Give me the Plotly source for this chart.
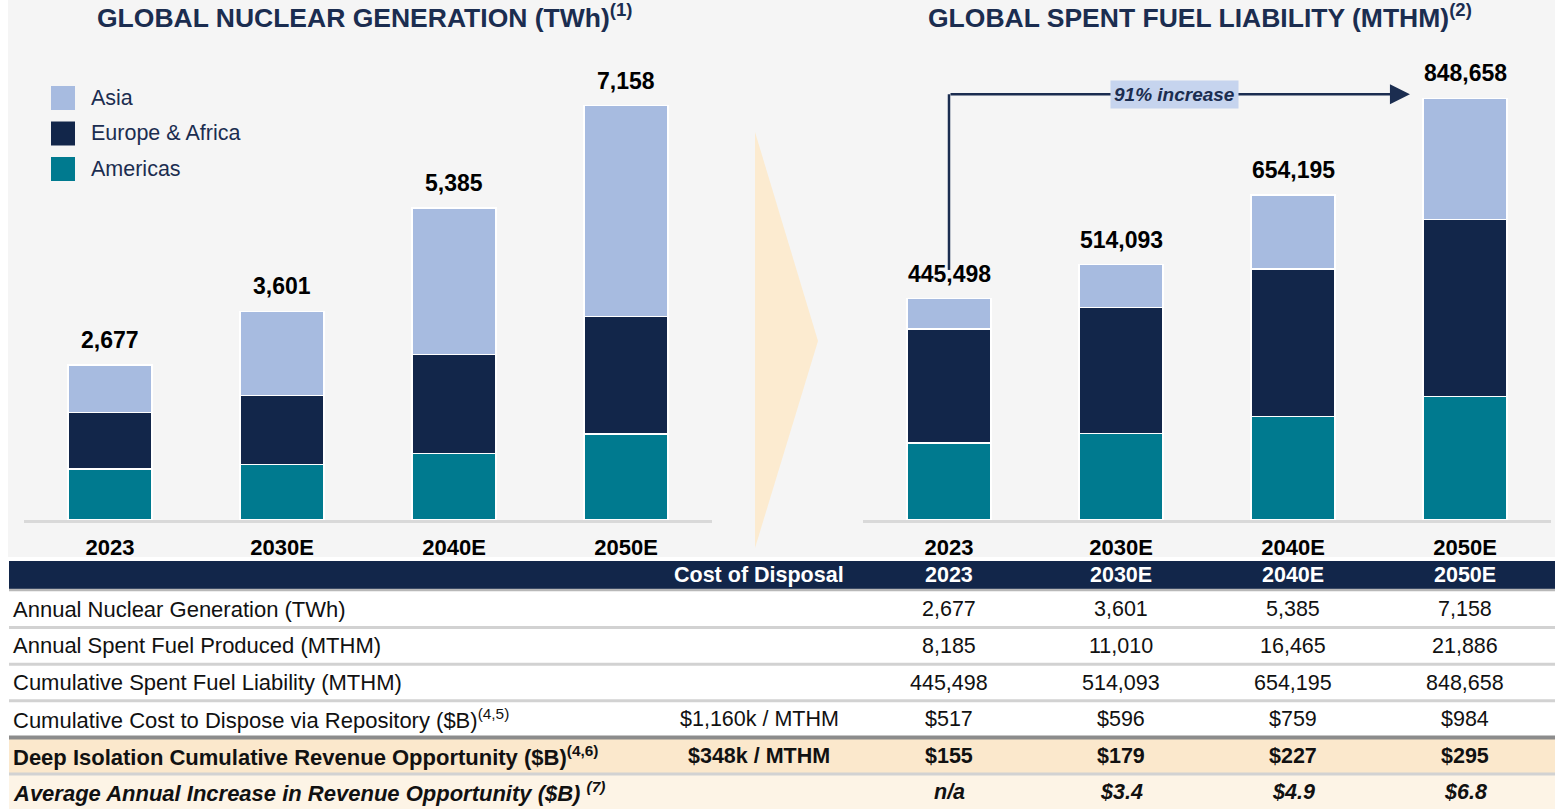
import plotly.graph_objects as go

W, H = 1555, 809

# ---------------- data ----------------
years = ["2023", "2030E", "2040E", "2050E"]

gen_americas = [881, 955, 1145, 1485]
gen_europe = [972, 1192, 1717, 2026]
gen_asia = [824, 1454, 2523, 3647]
gen_total = [2677, 3601, 5385, 7158]

fuel_americas = [155000, 174500, 208000, 249000]
fuel_europe = [229500, 252900, 297400, 355600]
fuel_asia = [60998, 86693, 148795, 244058]
fuel_total = [445498, 514093, 654195, 848658]

series_names = ["Asia", "Europe & Africa", "Americas"]

table_header_cost = "Cost of Disposal"
table_labels = [
    "Annual Nuclear Generation (TWh)",
    "Annual Spent Fuel Produced (MTHM)",
    "Cumulative Spent Fuel Liability (MTHM)",
    "Cumulative Cost to Dispose via Repository ($B)<sup>(4,5)</sup>",
    "<b>Deep Isolation Cumulative Revenue Opportunity ($B)<sup>(4,6)</sup></b>",
    "<b><i>Average Annual Increase in Revenue Opportunity ($B) <sup>(7)</sup></i></b>",
]
table_cost = ["", "", "", "$1,160k / MTHM", "<b>$348k / MTHM</b>", ""]
row_generation = ["2,677", "3,601", "5,385", "7,158"]
row_spent_annual = ["8,185", "11,010", "16,465", "21,886"]
row_cumulative = ["445,498", "514,093", "654,195", "848,658"]
row_repository = ["$517", "$596", "$759", "$984"]
row_revenue = ["$155", "$179", "$227", "$295"]
row_increase = ["n/a", "$3.4", "$4.9", "$6.8"]
increase_label = "91% increase"

# ---------------- style ----------------
C_ASIA = "#a7bbe0"
C_EUR = "#12264a"
C_AMER = "#007a8f"
C_TITLE = "#1b2d50"
FONT = "Liberation Sans, Arial, sans-serif"


def px(x):
    return x / W


def py(y):
    return 1 - y / H


fig = go.Figure()

for xa, ya, am, eu, asi in [
    ("x", "y", gen_americas, gen_europe, gen_asia),
    ("x2", "y2", fuel_americas, fuel_europe, fuel_asia),
]:
    for vals, col, name in [(am, C_AMER, series_names[2]),
                            (eu, C_EUR, series_names[1]),
                            (asi, C_ASIA, series_names[0])]:
        fig.add_trace(go.Bar(
            x=years, y=vals, name=name, xaxis=xa, yaxis=ya,
            marker=dict(color=col, line=dict(color="white", width=1.5)),
            width=0.49, showlegend=False, hoverinfo="skip",
        ))

axis_x = dict(type="category", range=[-0.5, 3.5], showline=True,
              linecolor="#d9d9d9", linewidth=3, showgrid=False, zeroline=False,
              ticks="", tickfont=dict(family=FONT, size=22, color="black", weight="bold"),
              ticklabelstandoff=6, fixedrange=True)

fig.update_layout(
    width=W, height=H,
    margin=dict(l=0, r=0, t=0, b=0),
    paper_bgcolor="white", plot_bgcolor="rgba(0,0,0,0)",
    barmode="stack", bargap=0.51,
    xaxis=dict(axis_x, domain=[px(24), px(712)], anchor="y"),
    yaxis=dict(domain=[py(520), 1], range=[0, 8980], visible=False, fixedrange=True),
    xaxis2=dict(axis_x, domain=[px(863), px(1551)], anchor="y2"),
    yaxis2=dict(domain=[py(520), 1], range=[0, 1046900], visible=False, fixedrange=True),
    showlegend=False,
    font=dict(family=FONT),
)

shapes = []
annotations = []


def ann(**kw):
    kw.setdefault("xanchor", "center")
    kw.setdefault("yanchor", "middle")
    kw.setdefault("showarrow", False)
    annotations.append(kw)


# chart background
shapes.append(dict(type="rect", xref="paper", yref="paper", x0=px(8), x1=1,
                   y0=py(557), y1=1, fillcolor="#f5f5f5", line_width=0, layer="below"))
# chevron
shapes.append(dict(type="path", xref="paper", yref="paper",
                   path=f"M {px(755)},{py(132)} L {px(818)},{py(341)} L {px(755)},{py(548)} Z",
                   fillcolor="#fcebd0", line_width=0, layer="below"))

# titles
ann(xref="paper", yref="paper", x=px(364), y=py(16),
    text="<b>GLOBAL NUCLEAR GENERATION (TWh)<sup style='font-size:15px'>(1)</sup></b>",
    font=dict(size=26.5, color=C_TITLE))
ann(xref="paper", yref="paper", x=px(1200), y=py(16),
    text="<b>GLOBAL SPENT FUEL LIABILITY (MTHM)<sup style='font-size:15px'>(2)</sup></b>",
    font=dict(size=26.5, color=C_TITLE))

# legend
for i, (name, col) in enumerate(zip(series_names, [C_ASIA, C_EUR, C_AMER])):
    yc = 98 + i * 35.5
    shapes.append(dict(type="rect", xref="paper", yref="paper",
                       x0=px(51), x1=px(75), y0=py(yc - 12), y1=py(yc + 12),
                       fillcolor=col, line_width=0))
    ann(xref="paper", yref="paper", x=px(88.5), y=py(yc), xanchor="left",
        text=name, font=dict(size=21.5, color=C_TITLE))

# totals
for xa, ya, tots in [("x", "y", gen_total), ("x2", "y2", fuel_total)]:
    for i, t in enumerate(tots):
        ann(xref=xa, yref=ya, x=i, y=t, yanchor="bottom", yshift=10,
            text=f"<b>{t:,}</b>", font=dict(size=23, color="black"))

# 91% increase arrow
y_arrow = fuel_total[-1] * 1.01
y_start = fuel_total[0] * 1.13
shapes.append(dict(type="line", xref="x2", yref="y2", x0=0, x1=0,
                   y0=y_start, y1=y_arrow, line=dict(color=C_TITLE, width=2.5)))
annotations.append(dict(xref="x2", yref="y2", axref="x2", ayref="y2",
                        x=2.68, y=y_arrow, ax=0, ay=y_arrow, text="",
                        showarrow=True, arrowhead=2, arrowsize=1.6, arrowwidth=2.5,
                        arrowcolor=C_TITLE))
ann(xref="x2", yref="y2", x=1.31, y=y_arrow,
    text=f"<b><i>{increase_label}</i></b>", bgcolor="#c6d4ee", borderpad=3,
    font=dict(size=19, color=C_TITLE))

# ---------------- table ----------------
hdr_top, hdr_bot = 561, 589
shapes.append(dict(type="rect", xref="paper", yref="paper", x0=px(9), x1=1,
                   y0=py(hdr_bot), y1=py(hdr_top), fillcolor="#12264a", line_width=0))
shapes.append(dict(type="line", xref="paper", yref="paper", x0=px(9), x1=1,
                   y0=py(590), y1=py(590), line=dict(color="#b8b8b8", width=2.5)))
hdr_c = (hdr_top + hdr_bot) / 2
ann(xref="paper", yref="paper", x=px(759), y=py(hdr_c),
    text=f"<b>{table_header_cost}</b>", font=dict(size=21.5, color="white"))
for i, yr in enumerate(years):
    ann(xref="x2", yref="paper", x=i, y=py(hdr_c),
        text=f"<b>{yr}</b>", font=dict(size=21.5, color="white"))

rows = [row_generation, row_spent_annual, row_cumulative, row_repository,
        row_revenue, row_increase]
row_top = 591.0
row_h = 36.6
row_fills = [None, None, None, None, "#fbe8cc", "#fdf4e6"]
for r, (lab, cost, vals, fill) in enumerate(zip(table_labels, table_cost, rows, row_fills)):
    top = row_top + r * row_h
    bot = top + row_h
    yc = (top + bot) / 2
    if fill:
        shapes.append(dict(type="rect", xref="paper", yref="paper", x0=px(9), x1=1,
                           y0=py(bot + 1), y1=py(top), fillcolor=fill, line_width=0,
                           layer="below"))
    if r < 5:
        dark = (r == 3)
        shapes.append(dict(type="line", xref="paper", yref="paper", x0=px(9), x1=1,
                           y0=py(bot), y1=py(bot),
                           line=dict(color="#8c8c8c" if dark else "#d2d2d2",
                                     width=4 if dark else 3)))
    ann(xref="paper", yref="paper", x=px(11), y=py(yc), xanchor="left",
        text=lab, font=dict(size=22, color="#111111"))
    if cost:
        ann(xref="paper", yref="paper", x=px(759), y=py(yc),
            text=cost, font=dict(size=21.5, color="#111111"))
    for i, v in enumerate(vals):
        txt = v
        if r == 4:
            txt = f"<b>{v}</b>"
        elif r == 5:
            txt = f"<b><i>{v}</i></b>"
        ann(xref="x2", yref="paper", x=i, y=py(yc),
            text=txt, font=dict(size=21.5, color="#111111"))

fig.update_layout(shapes=shapes, annotations=annotations)
fig.write_html("out.html", config={"displayModeBar": False},
               post_script="document.body.style.margin='0';document.body.style.overflow='hidden';")
